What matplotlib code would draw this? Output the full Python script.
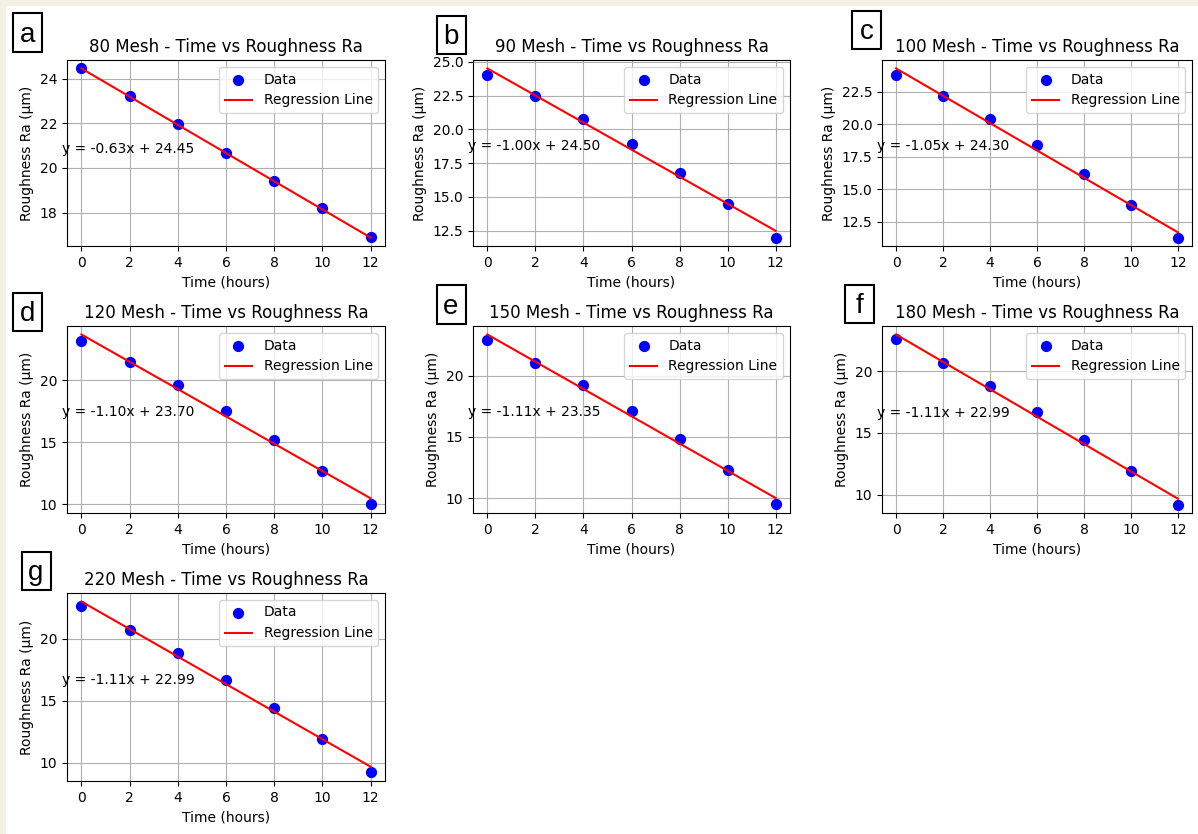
import matplotlib.pyplot as plt
from matplotlib.patches import Rectangle
import numpy as np

# ------------------------------------------
# Data

time_hours = [0, 2, 4, 6, 8, 10, 12]
mesh_sizes = [80, 90, 100, 120, 150, 180, 220]
panel_letters = ["a", "b", "c", "d", "e", "f", "g"]

ra_80 = [24.45, 23.2, 21.95, 20.65, 19.4, 18.2, 16.9]
ra_90 = [24.0, 22.5, 20.8, 18.9, 16.8, 14.5, 12.0]
ra_100 = [23.8, 22.2, 20.4, 18.4, 16.2, 13.8, 11.3]
ra_120 = [23.2, 21.5, 19.6, 17.5, 15.2, 12.7, 10.0]
ra_150 = [22.9, 21.0, 19.2, 17.1, 14.8, 12.3, 9.5]
ra_180 = [22.6, 20.7, 18.8, 16.7, 14.4, 11.9, 9.2]
ra_220 = [22.6, 20.7, 18.8, 16.7, 14.4, 11.9, 9.2]
ra_all = [ra_80, ra_90, ra_100, ra_120, ra_150, ra_180, ra_220]

slopes = [-0.63, -1.00, -1.05, -1.10, -1.11, -1.11, -1.11]
intercepts = [24.45, 24.50, 24.30, 23.70, 23.35, 22.99, 22.99]

# ------------------------------------------
# Layout (pixels in a 1198x834 canvas)

W, H = 1198, 834
col_left = [67, 473, 882]
col_width = [318, 317, 310]
row_top = [60, 326, 593]
row_height = [186, 187, 188]
label_centers = [(27.5, 32.5), (451, 35), (866.5, 30), (27.5, 312),
                 (451, 304.5), (859, 304), (36, 571)]

fig = plt.figure(figsize=(W / 100, H / 100), dpi=100)
fig.patch.set_facecolor("#f3f1e4")
fig.patches.append(Rectangle((6 / W, 0), 1, 1 - 6 / H, transform=fig.transFigure,
                             facecolor="white", edgecolor="none", zorder=-10))

for i, ra in enumerate(ra_all):
    r, c = divmod(i, 3)
    ax = fig.add_axes([col_left[c] / W, 1 - (row_top[r] + row_height[r]) / H,
                       col_width[c] / W, row_height[r] / H])
    x = np.array(time_hours)
    ax.scatter(x, ra, color="blue", s=50, label="Data", zorder=3)
    ax.plot(x, slopes[i] * x + intercepts[i], color="red", label="Regression Line", zorder=4)
    # equation sits with its baseline at the mean of the data
    ax.text(-0.8, np.mean(ra), f"y = {slopes[i]:.2f}x + {intercepts[i]:.2f}",
            fontsize=10, ha="left", zorder=5)
    ax.set_title(f"{mesh_sizes[i]} Mesh - Time vs Roughness Ra", fontsize=12)
    ax.set_xlabel("Time (hours)")
    ax.set_ylabel("Roughness Ra (µm)")
    ax.set_xticks(time_hours)
    ax.grid(True)
    ax.legend(loc="upper right")

    cx, cy = label_centers[i]
    fig.patches.append(Rectangle(((cx - 14.5) / W, 1 - (cy + 19) / H), 29 / W, 38 / H,
                                 transform=fig.transFigure, facecolor="white",
                                 edgecolor="black", linewidth=1.5, zorder=5))
    fig.text(cx / W, 1 - (cy + 2) / H, panel_letters[i], fontsize=20, family="Liberation Sans",
             ha="center", va="center", zorder=6)

plt.savefig("out.png", dpi=100)
